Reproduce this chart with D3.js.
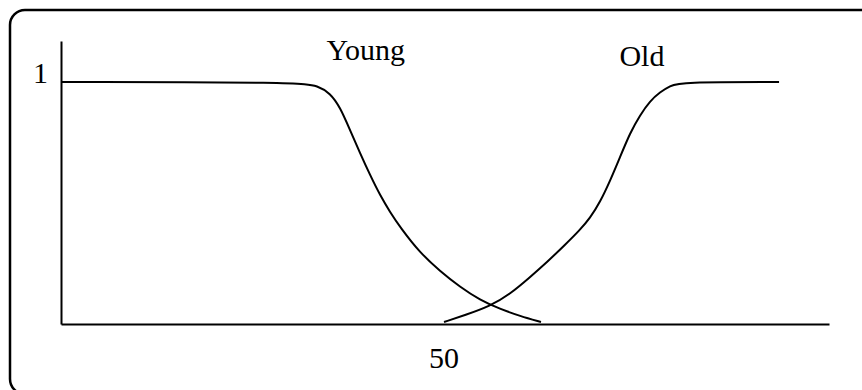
<!DOCTYPE html>
<html>
<head>
<meta charset="utf-8">
<script src="https://cdn.jsdelivr.net/npm/d3@7"></script>
<style>
  html, body { margin: 0; padding: 0; background: #fff; }
  svg { display: block; }
</style>
</head>
<body>
<svg id="chart" width="862" height="390"></svg>
<script>
// ---- data ----
const youngAge   = [0, 31.25, 33.60, 35.17, 36.48, 37.78, 39.09, 40.40, 41.70, 43.01, 44.32, 46.93, 49.55, 52.16, 54.78, 57.39, 60.01, 62.75];
const youngValue = [1, 1, 0.984, 0.955, 0.897, 0.802, 0.707, 0.616, 0.533, 0.463, 0.401, 0.294, 0.219, 0.153, 0.099, 0.062, 0.033, 0.008];
const oldAge     = [50.07, 52.82, 56.09, 58.71, 61.32, 63.54, 65.89, 67.85, 69.16, 70.47, 71.77, 73.08, 74.39, 75.70, 77.00, 78.31, 79.62, 80.93, 93.87];
const oldValue   = [0.008, 0.037, 0.074, 0.124, 0.194, 0.256, 0.327, 0.389, 0.438, 0.504, 0.591, 0.690, 0.790, 0.864, 0.922, 0.959, 0.984, 1, 1];
const seriesNames = ["Young", "Old"];
const xTickValues = [50];
const xTickLabels = ["50"];
const yTickValues = [1];
const yTickLabels = ["1"];

// ---- layout ----
const svg = d3.select("#chart");
const FONT = "'Liberation Serif', 'Times New Roman', serif";
const FS = 30;

svg.append("rect")
  .attr("x", 10).attr("y", 10)
  .attr("width", 870).attr("height", 384)
  .attr("rx", 15).attr("ry", 15)
  .attr("fill", "none").attr("stroke", "#000").attr("stroke-width", 2.5);

const x = d3.scaleLinear().domain([0, 100.4]).range([61, 829]);
const y = d3.scaleLinear().domain([0, 1.17]).range([324, 41]);

// x axis
const gx = svg.append("g").attr("transform", `translate(0,${y(0)})`)
  .call(d3.axisBottom(x).tickValues(xTickValues).tickFormat((d, i) => xTickLabels[i])
    .tickSize(0).tickSizeOuter(0));
gx.select(".domain").attr("stroke", "#000").attr("stroke-width", 2);
gx.selectAll(".tick text")
  .attr("font-family", FONT).attr("font-size", FS).attr("fill", "#000")
  .attr("y", 44).attr("dy", 0);

// y axis
const gy = svg.append("g").attr("transform", `translate(${x(0)},0)`)
  .call(d3.axisLeft(y).tickValues(yTickValues).tickFormat((d, i) => yTickLabels[i])
    .tickSize(0).tickSizeOuter(0));
gy.select(".domain").attr("stroke", "#000").attr("stroke-width", 2);
gy.selectAll(".tick text")
  .attr("font-family", FONT).attr("font-size", FS).attr("fill", "#000")
  .attr("x", -13).attr("dy", 0);

// curves
const line = d3.line()
  .x(d => x(d[0])).y(d => y(d[1]))
  .curve(d3.curveBasis);

const series = [
  d3.zip(youngAge, youngValue),
  d3.zip(oldAge, oldValue)
];
svg.selectAll("path.curve").data(series).join("path")
  .attr("class", "curve")
  .attr("d", line)
  .attr("fill", "none").attr("stroke", "#000").attr("stroke-width", 2);

// series labels
const labelPos = [[34.7, 1.09], [73.0, 1.065]];
svg.selectAll("text.series").data(seriesNames).join("text")
  .attr("class", "series")
  .attr("x", (d, i) => x(labelPos[i][0]))
  .attr("y", (d, i) => y(labelPos[i][1]))
  .attr("font-family", FONT).attr("font-size", FS).attr("fill", "#000")
  .text(d => d);
</script>
</body>
</html>
